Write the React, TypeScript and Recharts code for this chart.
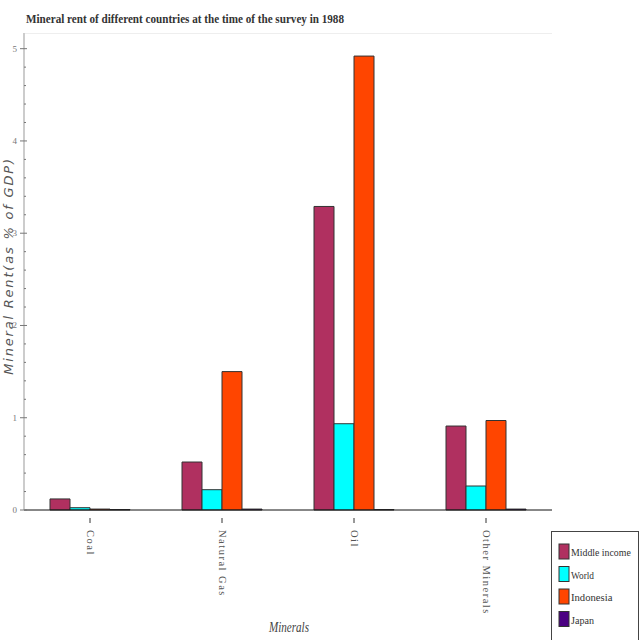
import React from "react";
import { BarChart, Bar, XAxis, YAxis, Label } from "recharts";

const minerals = ["Coal", "Natural Gas", "Oil", "Other Minerals"];
const middleIncome = [0.12, 0.52, 3.29, 0.91];
const world = [0.025, 0.22, 0.935, 0.26];
const indonesia = [0.01, 1.5, 4.92, 0.97];
const japan = [0.005, 0.01, 0.005, 0.01];
const yTicks = [0, 0.2, 0.4, 0.6, 0.8, 1, 1.2, 1.4, 1.6, 1.8, 2, 2.2, 2.4, 2.6, 2.8, 3, 3.2, 3.4, 3.6, 3.8, 4, 4.2, 4.4, 4.6, 4.8, 5];

const series = [
  { key: "Middle income", values: middleIncome, color: "#b03060" },
  { key: "World", values: world, color: "#00ffff" },
  { key: "Indonesia", values: indonesia, color: "#ff4500" },
  { key: "Japan", values: japan, color: "#4b0082" },
];

const data = minerals.map((name, i) => {
  const row: Record<string, string | number> = { name };
  series.forEach((s) => (row[s.key] = s.values[i]));
  return row;
});

const serif = "'Liberation Serif', 'DejaVu Serif', serif";

const YTick = (props: any) => {
  const { x, y, payload } = props;
  const major = Number.isInteger(payload.value);
  return (
    <g>
      {major ? (
        <>
          <line x1={x - 4} x2={x + 3} y1={y} y2={y} stroke="#777" />
          <text x={x - 7} y={y + 3} textAnchor="end" fontSize={9} fill="#777" fontFamily={serif}>
            {payload.value}
          </text>
        </>
      ) : (
        <line x1={x} x2={x + 2} y1={y} y2={y} stroke="#777" />
      )}
    </g>
  );
};

const XTick = (props: any) => {
  const { x, y, payload } = props;
  return (
    <g transform={`translate(${x},${y})`}>
      <line x1={0} x2={0} y1={0} y2={5} stroke="#333" />
      <text
        transform="translate(-3,12) rotate(90)"
        textAnchor="start"
        fontSize={10.5}
        fill="#555"
        letterSpacing={1.5}
        fontFamily={serif}
      >
        {payload.value}
      </text>
    </g>
  );
};

const LegendBox = () => (
  <svg width={88} height={110} style={{ position: "absolute", left: 551, top: 531 }}>
    <rect x={0.5} y={0.5} width={87} height={109} fill="#fff" stroke="#444" />
    {series.map((s) => {
      const i = series.indexOf(s);
      return (
        <g key={s.key}>
          <rect x={8} y={13 + i * 22.5} width={10} height={15} fill={s.color} stroke="#333" />
          <text
            x={20}
            y={25 + i * 22.5}
            fontSize={11}
            fill="#333"
            fontFamily={serif}
            textLength={s.key.length * 4.6}
            lengthAdjust="spacingAndGlyphs"
          >
            {s.key}
          </text>
        </g>
      );
    })}
  </svg>
);

export default function App() {
  return (
    <div style={{ position: "absolute", left: 0, top: 0, width: 640, height: 640, overflow: "hidden", background: "#fff" }}>
      <BarChart
        width={640}
        height={640}
        data={data}
        margin={{ top: 33, right: 88, left: 0, bottom: 30 }}
        barGap={0}
        barCategoryGap="19.7%"
      >
        <XAxis
          dataKey="name"
          height={100}
          tick={<XTick />}
          tickLine={false}
          axisLine={{ stroke: "#111" }}
          interval={0}
        >
          <Label
            content={() => (
              <text x={289} y={632} textAnchor="middle" fontSize={15} fontStyle="italic" fill="#444" fontFamily={serif} textLength={40} lengthAdjust="spacingAndGlyphs">
                Minerals
              </text>
            )}
          />
        </XAxis>
        <YAxis
          width={24}
          domain={[0, 5.17]}
          ticks={yTicks}
          interval={0}
          tickSize={0}
          tickMargin={0}
          tick={<YTick />}
          tickLine={false}
          axisLine={{ stroke: "#999" }}
        >
          <Label
            content={() => (
              <text
                transform="translate(13,266) rotate(-90)"
                textAnchor="middle"
                fontSize={13}
                fontStyle="italic"
                fill="#555"
                letterSpacing={1.8}
                fontFamily="'DejaVu Sans', sans-serif"
              >
                Mineral Rent(as % of GDP)
              </text>
            )}
          />
        </YAxis>
        {series.map((s) => (
          <Bar key={s.key} dataKey={s.key} fill={s.color} stroke="#333" strokeWidth={1} isAnimationActive={false} />
        ))}
      </BarChart>
      <svg width={640} height={36} style={{ position: "absolute", left: 0, top: 0 }}>
        <text x={26} y={23} fontSize={13} fontWeight="bold" fill="#333" fontFamily={serif} textLength={318} lengthAdjust="spacingAndGlyphs">
          Mineral rent of different countries at the time of the survey in 1988
        </text>
        <line x1={25} x2={552} y1={33.5} y2={33.5} stroke="#eee" />
      </svg>
      <LegendBox />
    </div>
  );
}
